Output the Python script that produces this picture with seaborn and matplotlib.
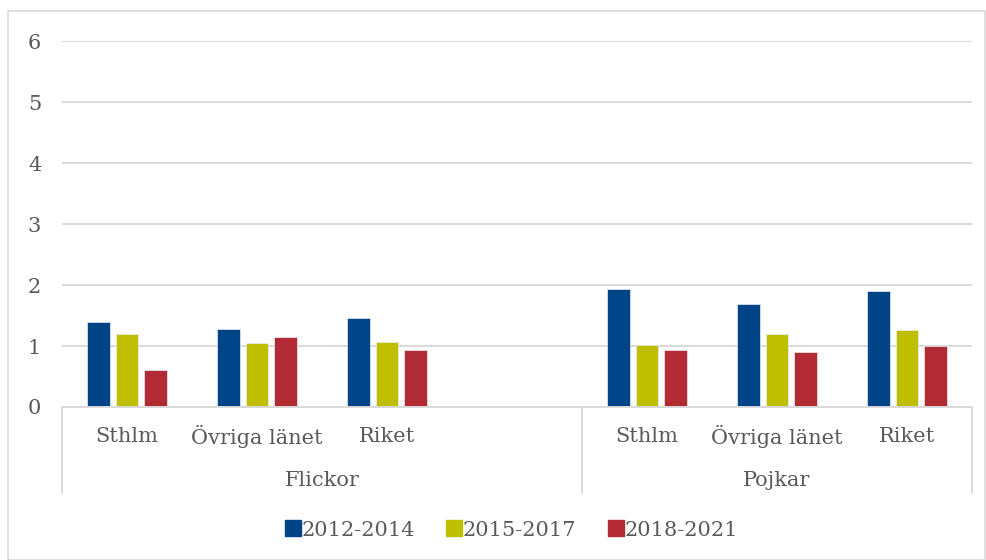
import matplotlib
matplotlib.use("Agg")
import matplotlib.pyplot as plt
import pandas as pd
import seaborn as sns
from matplotlib.lines import Line2D
from matplotlib.patches import Rectangle

# data
slots = ["F_Sthlm", "F_Ovriga", "F_Riket", "F_blank", "P_Sthlm", "P_Ovriga", "P_Riket"]
slot_labels = ["Sthlm", "Övriga länet", "Riket", "", "Sthlm", "Övriga länet", "Riket"]
groups = ["Flickor", "Pojkar"]
periods = ["2012-2014", "2015-2017", "2018-2021"]
v_2012 = [1.40, 1.28, 1.46, None, 1.94, 1.69, 1.90]
v_2015 = [1.20, 1.05, 1.06, None, 1.01, 1.19, 1.27]
v_2018 = [0.61, 1.14, 0.94, None, 0.94, 0.90, 1.00]
colors = ["#004488", "#bfbf00", "#b22a33"]

rows = []
for p, vals in zip(periods, [v_2012, v_2015, v_2018]):
    for s, v in zip(slots, vals):
        rows.append({"slot": s, "period": p, "value": v})
df = pd.DataFrame(rows)

sns.set_theme(style="white")
plt.rcParams["font.family"] = ["DejaVu Serif"]
text_col = "#595959"
grid_col = "#d9d9d9"

fig = plt.figure(figsize=(9.87, 5.6), dpi=100)
ax = fig.add_axes([62 / 987, 1 - 407 / 560, 910 / 987, 366.5 / 560])

sns.barplot(data=df, x="slot", y="value", hue="period", order=slots,
            hue_order=periods, palette=colors, width=0.66, gap=0.2,
            saturation=1, ax=ax, legend=False, edgecolor="#e8eef5", linewidth=0.5)

ax.set_ylim(0, 6.01)
ax.set_xlim(-0.5, len(slots) - 0.5)
ax.set_yticks(range(0, 7))
ax.tick_params(axis="y", length=0, pad=15, labelsize=15, labelcolor=text_col)
ax.yaxis.grid(True, color=grid_col, linewidth=1.4)
ax.set_axisbelow(True)
for side in ["left", "right", "top"]:
    ax.spines[side].set_visible(False)
ax.spines["bottom"].set_color(grid_col)
ax.spines["bottom"].set_linewidth(1.4)
ax.set_xticks([])
ax.set_xlabel("")
ax.set_ylabel("")

# category labels and group labels
tr = ax.get_xaxis_transform()
for i, lab in enumerate(slot_labels):
    ax.text(i, -0.08, lab, transform=tr, ha="center", va="center",
            fontsize=15, color=text_col)
ax.text(1.5, -0.2, groups[0], transform=tr, ha="center", va="center",
        fontsize=15, color=text_col)
ax.text(5.0, -0.2, groups[1], transform=tr, ha="center", va="center",
        fontsize=15, color=text_col)
for xb in [-0.5, 3.5, 6.5]:
    ax.add_line(Line2D([xb, xb], [0, -0.235], transform=tr, color=grid_col,
                       linewidth=1.4, clip_on=False))

handles = [Line2D([], [], marker="s", linestyle="", markersize=11,
                  markerfacecolor=c, markeredgecolor=c) for c in colors]
fig.legend(handles, periods, loc="center", bbox_to_anchor=(508 / 987, 1 - 530 / 560),
           ncol=3, frameon=False, fontsize=15, handletextpad=-0.3,
           handlelength=1.4, columnspacing=1.2, labelcolor=text_col)

fig.patches.append(Rectangle((8 / 987, 0), 977 / 987, 1 - 11 / 560,
                             transform=fig.transFigure, fill=False,
                             edgecolor=grid_col, linewidth=1.2))

fig.savefig("out.png", dpi=100)
